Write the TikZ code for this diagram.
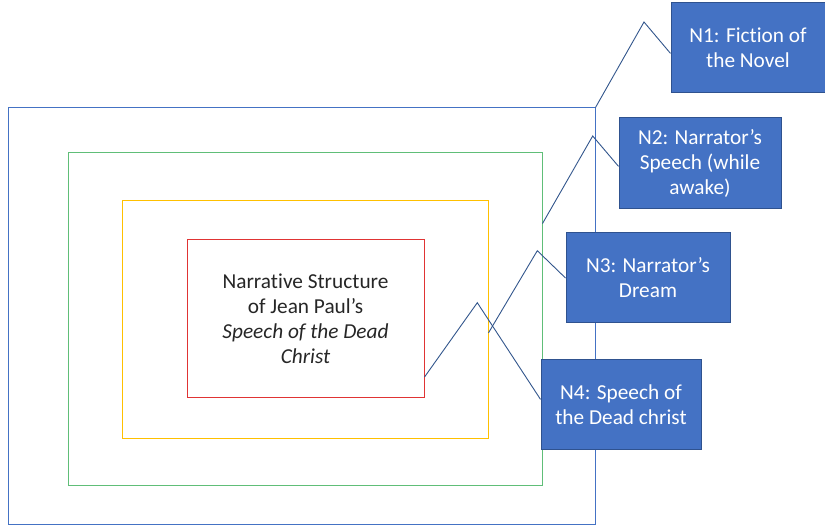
\documentclass[tikz,border=0pt]{standalone}
\usepackage{fontspec}
\setmainfont{Carlito}[Ligatures=CommonOff]
\usetikzlibrary{positioning}
\definecolor{frameblue}{RGB}{68,114,196}
\definecolor{boxedge}{RGB}{47,82,143}
\definecolor{leadblue}{RGB}{50,86,140}
\definecolor{framegreen}{RGB}{96,190,120}
\definecolor{frameorange}{RGB}{255,192,0}
\definecolor{framered}{RGB}{224,52,52}
\definecolor{textgray}{RGB}{38,38,38}

\tikzset{
  frame/.style={draw,line width=1pt,inner sep=0pt},
  callbox/.style={fill=frameblue,draw=boxedge,line width=1pt,text=white,align=center,
    minimum height=90pt,inner sep=0pt,font=\fontsize{21.3}{25}\selectfont},
  callout/.style={draw=leadblue,line width=0.9pt}
}

\begin{document}
\begin{tikzpicture}[x=1pt,y=-1pt]
  \useasboundingbox (0,0) rectangle (825,526);
  \node[frame,frameblue,minimum width=587pt,minimum height=416pt] (outer) at (301.5,316) {};
  \node[frame,framegreen,minimum width=474pt,minimum height=333pt] (green) at (305,319.5) {};
  \node[frame,frameorange,minimum width=366pt,minimum height=238pt] (yellow) at (305,320) {};
  \node[frame,framered,minimum width=237pt,minimum height=158pt,text=textgray,align=center,
    font=\fontsize{21.3}{25}\selectfont] (red) at (305.5,319)
    {Narrative Structure\\of Jean Paul’s\\\textit{Speech of the Dead}\\\textit{Christ}};

  \node[callbox,minimum width=154pt] (n1) at (748,48) {N1: Fiction of\\the Novel};
  \node[callbox,minimum width=162pt,minimum height=91pt] (n2) at (700,163.5) {N2: Narrator’s\\Speech (while\\awake)};
  \node[callbox,minimum width=164pt] (n3) at (648,278) {N3: Narrator’s\\Dream};
  \node[callbox,minimum width=160pt] (n4) at (621,405) {N4: Speech of\\the Dead christ};

  \coordinate (a1) at (644,22);
  \coordinate (a2) at (592.7,136);
  \coordinate (a3) at (537.3,250.7);
  \coordinate (a4) at (477.3,302.7);
  \foreach \s/\a/\e in {outer.north east/a1/n1.184, green.22.6/a2/n2.182,
                        yellow.-4.7/a3/n3.west, red.-26.6/a4/n4.176}
    \draw[callout] (\s) -- (\a) -- (\e);
\end{tikzpicture}
\end{document}
